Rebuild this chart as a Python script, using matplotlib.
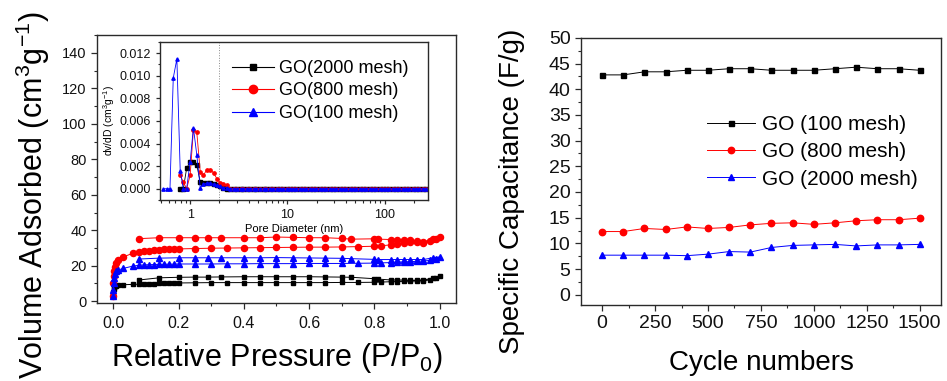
import numpy as np
import matplotlib
matplotlib.use("Agg")
import matplotlib.pyplot as plt
from matplotlib.lines import Line2D
from matplotlib.ticker import MultipleLocator, FixedLocator, FormatStrFormatter, LogLocator, NullFormatter

plt.rcParams['font.family'] = ['Liberation Sans', 'DejaVu Sans']
plt.rcParams['mathtext.fontset'] = 'custom'
plt.rcParams['mathtext.rm'] = 'Liberation Sans'
plt.rcParams['mathtext.it'] = 'Liberation Sans:italic'

# N2 isotherms, adsorption branch
p_ads = [0.0, 0.0005, 0.001, 0.002, 0.004, 0.008, 0.015, 0.03, 0.06, 0.08, 0.095, 0.11, 0.125, 0.14,
         0.155, 0.17, 0.185, 0.20, 0.25, 0.30, 0.35, 0.40, 0.45, 0.50, 0.55, 0.60, 0.65, 0.70, 0.75,
         0.80, 0.82, 0.85, 0.87, 0.89, 0.91, 0.93, 0.95, 0.97, 0.99, 1.0]
v_ads_2000 = [3, 5, 7, 8, 8.5, 8.8, 9.0, 9.3, 9.5, 9.6, 9.7, 9.8, 9.9, 10.0, 10.1, 10.2, 10.3, 10.3,
              10.4, 10.5, 10.5, 10.5, 10.5, 10.5, 10.5, 10.5, 10.5, 10.6, 10.6, 10.7, 10.8, 11.0, 11.1,
              11.2, 11.3, 11.4, 11.5, 12.0, 13.0, 14.0]
v_ads_800 = [3, 10, 14, 17, 19.5, 21.5, 23, 25, 27, 27.8, 28.2, 28.5, 28.8, 29.0, 29.2, 29.3, 29.4,
             29.5, 29.7, 29.9, 30.0, 30.1, 30.2, 30.3, 30.4, 30.5, 30.5, 30.6, 30.8, 31.0, 31.2, 31.8,
             32.5, 33.0, 33.3, 33.5, 32.8, 34.0, 35.0, 36.0]
v_ads_100 = [3, 6.5, 10.5, 13.3, 15.5, 16.8, 17.6, 18.5, 19.8, 20.3, 20.5, 20.6, 20.7, 20.8, 20.8,
             20.9, 20.9, 21.0, 21.0, 21.0, 21.1, 21.1, 21.2, 21.2, 21.2, 21.3, 21.3, 21.3, 21.4, 21.5,
             21.6, 21.8, 22.0, 22.2, 22.3, 22.5, 22.7, 23.0, 24.0, 25.0]

# desorption branch
p_des = [0.98, 0.95, 0.93, 0.91, 0.89, 0.87, 0.85, 0.81, 0.80, 0.73, 0.70, 0.65, 0.60, 0.55, 0.50,
         0.45, 0.40, 0.33, 0.29, 0.25, 0.20, 0.14, 0.08]
v_des_2000 = [13.0, 12.0, 11.8, 11.8, 11.9, 12.0, 12.0, 12.5, 12.7, 13.5, 13.6, 13.7, 13.8, 13.8,
              13.8, 13.8, 13.8, 13.7, 13.6, 13.6, 13.5, 13.2, 12.0]
v_des_800 = [35.0, 33.5, 34.0, 34.5, 34.5, 34.5, 34.8, 35.0, 35.2, 35.0, 35.4, 35.8, 35.8, 36.0, 36.2,
             35.8, 35.8, 35.8, 35.8, 35.8, 35.8, 35.8, 35.3]
v_des_100 = [24.5, 23.5, 23.5, 23.5, 23.5, 23.5, 23.5, 23.5, 23.6, 24.0, 24.2, 24.3, 24.4, 24.5, 24.6,
             24.5, 24.5, 24.5, 24.5, 24.5, 24.5, 24.3, 23.8]

# pore size distribution (inset)
pore_head = [0.53, 0.58, 0.62, 0.67, 0.73, 0.79, 0.85, 0.92, 1.0, 1.08, 1.17, 1.27, 1.37, 1.49, 1.61,
             1.74, 1.88, 2.04, 2.2, 2.39]
pore_tail = [2.58, 2.8, 3.0, 3.3, 3.5, 3.8, 4.1, 4.5, 4.8, 5.2, 5.7, 6.1, 6.6, 7.2, 7.8, 8.4, 9.1, 9.8,
             10.6, 11.5, 12.4, 13.4, 14.5, 15.7, 17.0, 18.4, 19.9, 21.5, 23.3, 25.2, 27.2, 29.5, 31.9,
             34.5, 37.3, 40.4, 43.7, 47.3, 51.1, 55.3, 59.9, 64.8, 70.1, 75.8, 82.0, 88.7, 96.0, 104,
             112, 121, 131, 142, 154, 166, 180, 195, 211, 228, 247, 265]
psd_100_head = [0, 0, 0, 0.0098, 0.0115, 0.0016, 0, 0, 0.0024, 0.0054, 0.0030, 0.0001, 0.0004, 0.0005,
                0.0005, 0.0004, 0.0003, 0.0002, 0.0001, 0.0001]
psd_800_head = [0.0012, 0.0006, 0.0, 0.0012, 0.0052, 0.0050, 0.0015, 0.0012, 0.0017, 0.0017, 0.0014,
                0.0009, 0.0005, 0.0004, 0.0003]
psd_2000_head = [0.0, 0.0, 0.0018, 0.0024, 0.0024, 0.0021, 0.0006, 0.0005, 0.0005, 0.0005, 0.0004,
                 0.0003, 0.0002, 0.0001, 0.0]
psd_tail = [0.0] * len(pore_tail)

# cycling
cycles = [0, 100, 200, 300, 400, 500, 600, 700, 800, 900, 1000, 1100, 1200, 1300, 1400, 1500]
cap_100 = [42.8, 42.8, 43.4, 43.4, 43.7, 43.7, 44.0, 44.0, 43.7, 43.7, 43.7, 44.0, 44.3, 44.0, 44.0, 43.7]
cap_800 = [12.3, 12.3, 12.9, 12.7, 13.2, 12.9, 13.1, 13.6, 13.9, 14.0, 13.7, 14.0, 14.4, 14.6, 14.6, 14.9]
cap_2000 = [7.7, 7.7, 7.7, 7.7, 7.6, 7.9, 8.4, 8.3, 9.2, 9.6, 9.7, 9.8, 9.5, 9.7, 9.7, 9.8]

frame = '#2a2a2a'


def style_axes(ax, size):
    for sp in ax.spines.values():
        sp.set_color(frame)
        sp.set_linewidth(1.0)
    ax.tick_params(which='both', direction='out', top=False, right=False, colors=frame,
                   labelcolor='#111111', labelsize=size)
    ax.tick_params(which='major', length=4, width=0.9)
    ax.tick_params(which='minor', length=2.5, width=0.8)


fig = plt.figure(figsize=(9.47, 3.81), dpi=100)

# left: isotherms
ax1 = fig.add_axes([0.1024, 0.2047, 0.379, 0.703])
iso = [(v_ads_2000, v_des_2000, 'black', 's', 3.4),
       (v_ads_800, v_des_800, '#ff0000', 'o', 4.4),
       (v_ads_100, v_des_100, '#0000ff', '^', 4.4)]
for v_a, v_d, c, m, ms in iso:
    ax1.plot(np.concatenate([p_ads, p_des]), np.concatenate([v_a, v_d]), color=c, lw=0.7,
             marker=m, ms=ms, mec=c, mfc=c)
ax1.set_xlim(-0.05, 1.05)
ax1.set_ylim(-1, 150)
ax1.xaxis.set_major_locator(MultipleLocator(0.2))
ax1.xaxis.set_minor_locator(MultipleLocator(0.1))
ax1.xaxis.set_major_formatter(FormatStrFormatter('%.1f'))
ax1.yaxis.set_major_locator(FixedLocator([0, 20, 40, 60, 80, 100, 120, 140]))
ax1.yaxis.set_minor_locator(MultipleLocator(10))
style_axes(ax1, 10.5)
ax1.tick_params(axis='x', labelsize=11.5, pad=5)
fig.text(33 / 947, 1 - 195 / 381, 'Volume Adsorbed (cm$^3$g$^{-1}$)', rotation=90,
         ha='center', va='center', fontsize=22)
fig.text(277 / 947, 1 - 358 / 381, 'Relative Pressure (P/P$_0$)', ha='center', va='center', fontsize=22)

# inset: pore size distribution
ax2 = fig.add_axes([0.169, 0.475, 0.283, 0.415])
ax2.axvline(2, color='#888888', lw=0.7, ls=':')
psd = [(pore_head[5:], psd_2000_head, 'black', 's'),
       (pore_head[5:], psd_800_head, '#ff0000', 'o'),
       (pore_head, psd_100_head, '#0000ff', '^')]
for x_h, y_h, c, m in psd:
    ax2.plot(x_h + pore_tail, y_h + psd_tail, color=c, lw=0.6, marker=m, ms=2.4, mec=c, mfc=c)
ax2.set_xscale('log')
ax2.set_xlim(0.49, 280)
ax2.set_ylim(-0.001, 0.013)
ax2.xaxis.set_major_locator(FixedLocator([1, 10, 100]))
ax2.xaxis.set_major_formatter(FormatStrFormatter('%g'))
ax2.xaxis.set_minor_locator(LogLocator(base=10, subs=np.arange(2, 10)))
ax2.xaxis.set_minor_formatter(NullFormatter())
ax2.yaxis.set_major_locator(MultipleLocator(0.002))
ax2.yaxis.set_minor_locator(MultipleLocator(0.001))
ax2.yaxis.set_major_formatter(FormatStrFormatter('%.3f'))
style_axes(ax2, 9)
ax2.tick_params(which='major', length=3)
ax2.tick_params(which='minor', length=1.8)
ax2.set_xlabel('Pore Diameter (nm)', fontsize=8, labelpad=2)
ax2.set_ylabel('dv/dD (cm$^3$g$^{-1}$)', fontsize=7.5, labelpad=2)

handles = [Line2D([], [], color='black', lw=0.8, marker='s', ms=5),
           Line2D([], [], color='#ff0000', lw=0.8, marker='o', ms=6),
           Line2D([], [], color='#0000ff', lw=0.8, marker='^', ms=6)]
fig.legend(handles, ['GO(2000 mesh)', 'GO(800 mesh)', 'GO(100 mesh)'], loc='upper left',
           bbox_to_anchor=(232 / 947, 1 - 60 / 381), frameon=False, fontsize=13,
           handlelength=2.3, handletextpad=0.3, labelspacing=0.3, borderpad=0, borderaxespad=0)

# right: cycling stability
ax3 = fig.add_axes([0.6135, 0.1995, 0.380, 0.701])
cyc = [(cap_100, 'black', 's', 3.6, 'GO (100 mesh)'),
       (cap_800, '#ff0000', 'o', 4.6, 'GO (800 mesh)'),
       (cap_2000, '#0000ff', '^', 4.6, 'GO (2000 mesh)')]
for vals, c, m, ms, lab in cyc:
    ax3.plot(cycles, vals, color=c, lw=0.7, marker=m, ms=ms, mec=c, mfc=c, label=lab)
ax3.set_xlim(-100, 1600)
ax3.set_ylim(-2, 50)
ax3.xaxis.set_major_locator(MultipleLocator(250))
ax3.xaxis.set_minor_locator(MultipleLocator(125))
ax3.yaxis.set_major_locator(MultipleLocator(5))
ax3.yaxis.set_minor_locator(MultipleLocator(2.5))
style_axes(ax3, 14)
ax3.legend(loc='upper left', bbox_to_anchor=(707 / 947, 1 - 115 / 381),
           bbox_transform=fig.transFigure, frameon=False, fontsize=15, handlelength=2.3,
           handletextpad=0.35, labelspacing=0.4, borderpad=0, borderaxespad=0)
fig.text(512 / 947, 1 - 191 / 381, 'Specific Capacitance (F/g)', rotation=90,
         ha='center', va='center', fontsize=20)
fig.text(761 / 947, 1 - 363 / 381, 'Cycle numbers', ha='center', va='center', fontsize=20)

fig.savefig('out.png', dpi=100, facecolor='white')
